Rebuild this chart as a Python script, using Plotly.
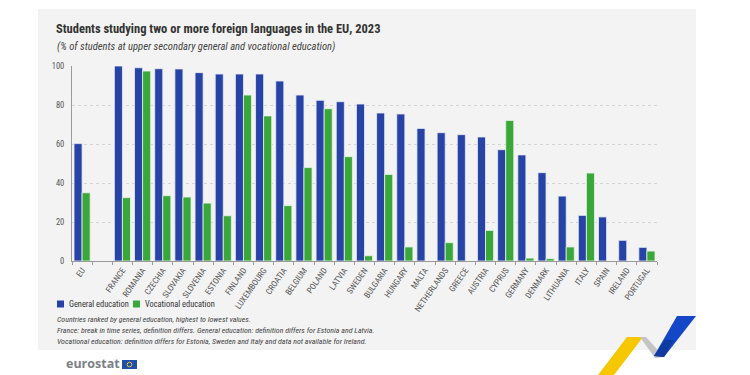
import plotly.graph_objects as go

categories = ["EU", " ", "FRANCE", "ROMANIA", "CZECHIA", "SLOVAKIA", "SLOVENIA", "ESTONIA",
              "FINLAND", "LUXEMBOURG", "CROATIA", "BELGIUM", "POLAND", "LATVIA", "SWEDEN",
              "BULGARIA", "HUNGARY", "MALTA", "NETHERLANDS", "GREECE", "AUSTRIA", "CYPRUS",
              "GERMANY", "DENMARK", "LITHUANIA", "ITALY", "SPAIN", "IRELAND", "PORTUGAL"]
general = [60.2, None, 100.0, 99.1, 98.6, 98.5, 96.6, 95.9, 95.9, 95.9, 92.3, 85.1, 82.4, 81.7,
           80.5, 75.9, 75.4, 68.0, 65.8, 64.8, 63.6, 57.1, 54.4, 45.3, 33.3, 23.4, 22.6, 10.6, 7.0]
vocational = [35.0, None, 32.5, 97.4, 33.5, 32.8, 29.7, 23.2, 85.1, 74.4, 28.4, 47.9, 78.1, 53.5,
              2.7, 44.4, 7.2, None, 9.4, None, 15.7, 72.1, 1.5, 1.2, 7.2, 45.1, None, None, 5.1]
y_ticks = [0, 20, 40, 60, 80, 100]
series_names = ["General education", "Vocational education"]

W, H = 750, 375
L, R, T, B = 72, 657, 66, 261  # plot area in pixels


def px(x):
    return (x - L) / (R - L)


def py(y):
    return (B - y) / (B - T)


NARROW = "Roboto Condensed, DejaVu Sans Condensed, sans-serif"
BLUE = "#2743a6"
GREEN = "#3aa73a"

fig = go.Figure()
fig.add_trace(go.Bar(name=series_names[0], x=categories, y=general,
                     marker=dict(color=BLUE, line=dict(color="#e8ecf6", width=0.8))))
fig.add_trace(go.Bar(name=series_names[1], x=categories, y=vocational,
                     marker=dict(color=GREEN, line=dict(color="#e8f4e8", width=0.8))))

shapes = []
# grey panel
shapes.append(dict(type="rect", xref="paper", yref="paper", x0=px(38), x1=px(696),
                   y0=py(350), y1=py(9), fillcolor="#f3f3f3", line=dict(width=0), layer="below"))


def poly(points, color):
    d = "M " + " L ".join(f"{px(a):.5f},{py(b):.5f}" for a, b in points) + " Z"
    return dict(type="path", xref="paper", yref="paper", path=d, fillcolor=color,
                line=dict(width=0), layer="above")


# decorative ribbons
shapes.append(poly([(627, 337), (643, 337), (614, 375), (598, 375)], "#f7c800"))
shapes.append(poly([(640, 337), (646, 337), (664, 357), (655, 358)], "#c4c4c4"))
shapes.append(poly([(677, 316), (696, 316), (664, 357), (654, 356)], "#1446c8"))
shapes.append(poly([(665, 340), (674, 340), (664, 357), (654, 356)], "#103a9e"))
# eurostat flag
shapes.append(dict(type="rect", xref="paper", yref="paper", x0=px(122), x1=px(137),
                   y0=py(369), y1=py(360), fillcolor="#1f4fa8", line=dict(width=0)))
shapes.append(dict(type="circle", xref="paper", yref="paper", x0=px(127.2), x1=px(131.8),
                   y0=py(366.8), y1=py(362.2), fillcolor="rgba(0,0,0,0)",
                   line=dict(color="#e8c53a", width=1)))

annotations = []
annotations.append(dict(text="<b>Students studying two or more foreign languages in the EU, 2023</b>",
                        x=px(54), y=py(28.5), xref="paper", yref="paper", xanchor="left",
                        yanchor="middle", showarrow=False,
                        font=dict(family=NARROW, size=12.5, color="#333333")))
annotations.append(dict(text="<i>(% of students at upper secondary general and vocational education)</i>",
                        x=px(55), y=py(47), xref="paper", yref="paper", xanchor="left",
                        yanchor="middle", showarrow=False,
                        font=dict(family=NARROW, size=10.6, color="#444444")))
notes = ["Countries ranked by general education, highest to lowest values.",
         "France: break in time series, definition differs. General education: definition differs for Estonia and Latvia.",
         "Vocational education: definition differs for Estonia, Sweden and Italy and data not available for Ireland."]
for i, n in enumerate(notes):
    annotations.append(dict(text=f"<i>{n}</i>", x=px(55), y=py(319.5 + i * 10.8), xref="paper",
                            yref="paper", xanchor="left", yanchor="middle", showarrow=False,
                            font=dict(family=NARROW, size=7.9, color="#444444")))
annotations.append(dict(text="<b>eurostat</b>", x=px(121.5), y=py(363.5), xref="paper", yref="paper",
                        xanchor="right", yanchor="middle", showarrow=False,
                        font=dict(family="Open Sans, sans-serif", size=12.5, color="#7b7f86")))

# manual legend
legend_x = [57, 133]
for name, color, lx in zip(series_names, [BLUE, GREEN], legend_x):
    shapes.append(dict(type="rect", xref="paper", yref="paper", x0=px(lx), x1=px(lx + 7),
                       y0=py(307.5), y1=py(300.5), fillcolor=color, line=dict(width=0)))
    annotations.append(dict(text=name, x=px(lx + 9.5), y=py(304), xref="paper", yref="paper",
                            xanchor="left", yanchor="middle", showarrow=False,
                            font=dict(family=NARROW, size=8.4, color="#333333")))

fig.update_layout(
    width=W, height=H,
    margin=dict(l=L, r=W - R, t=T, b=H - B, pad=0),
    paper_bgcolor="white", plot_bgcolor="rgba(0,0,0,0)",
    barmode="group", bargap=0.2, bargroupgap=0.0,
    showlegend=False,
    shapes=shapes, annotations=annotations,
    font=dict(family=NARROW),
)
fig.update_xaxes(type="category", tickangle=-55, showline=True, linecolor="#9a9a9a", linewidth=1,
                 ticks="outside", tickson="boundaries", ticklen=3, tickcolor="#9a9a9a",
                 tickfont=dict(family=NARROW, size=8.5, color="#555555"), showgrid=False)
fig.update_yaxes(range=[0, 100], tickvals=y_ticks, showline=True, linecolor="#9a9a9a", linewidth=1,
                 showgrid=True, gridcolor="#d4d4d4", griddash="dot", gridwidth=1, zeroline=False,
                 ticks="", ticklabelstandoff=5,
                 tickfont=dict(family=NARROW, size=8.5, color="#555555"))

# remove the browser's default page margin so the figure starts at the window's top-left corner
fig.write_html("out.html", config={"displayModeBar": False},
               post_script="document.body.style.margin='0px';")
